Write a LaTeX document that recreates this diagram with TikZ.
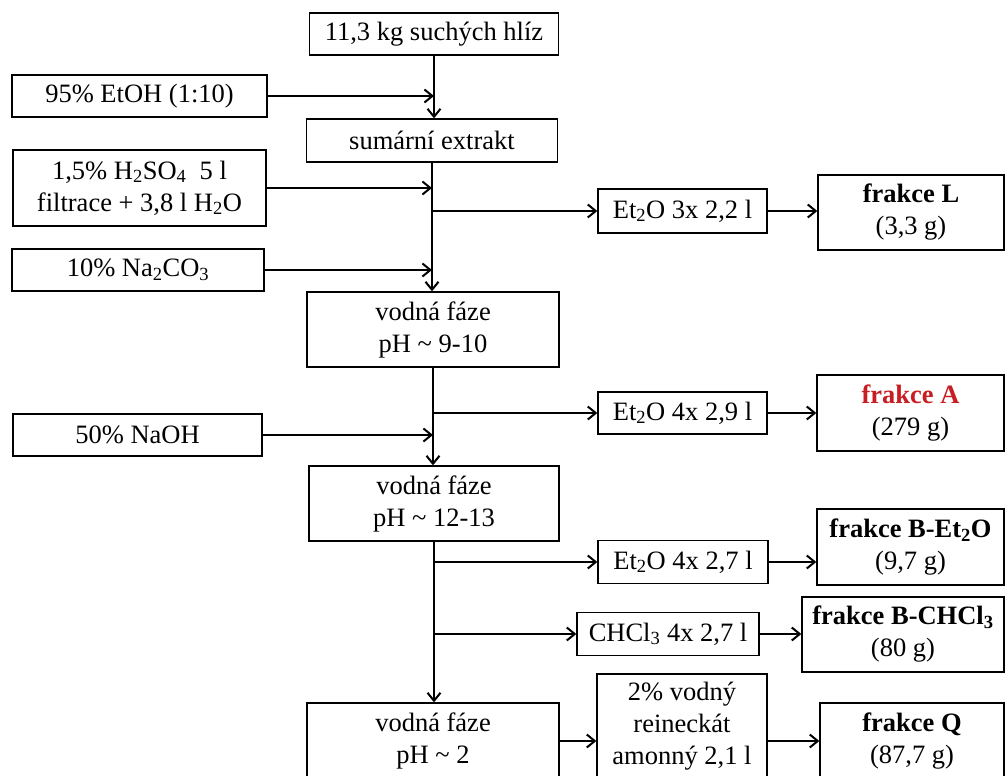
\documentclass[tikz,border=0pt]{standalone}
\usepackage{fontspec}
\setmainfont{Liberation Serif}
\usetikzlibrary{arrows.meta}
\definecolor{fred}{RGB}{200,30,35}
\begin{document}
\begin{tikzpicture}[x=1pt,y=-1pt,
  box/.style={draw, line width=1.3pt, inner sep=0pt, align=center, font=\fontsize{26.5}{32}\selectfont},
  conn/.style={line width=2pt, -{Straight Barb[length=8pt,width=13pt,line width=2pt]}},
  wire/.style={line width=2pt}]
\clip (0,0) rectangle (1005,776);
\fill[white] (0,0) rectangle (1005,776);
% main column
\node[box, minimum width=249pt, minimum height=42pt] (n1) at (434,34) {11,3 kg suchých hlíz};
\node[box, minimum width=251pt, minimum height=43pt] (n2) at (432,140.5) {sumární extrakt};
\node[box, minimum width=252pt, minimum height=75pt] (n3) at (433,329.5) {vodná fáze\\pH \textasciitilde\ 9-10};
\node[box, minimum width=250pt, minimum height=75pt] (n4) at (434,503.5) {vodná fáze\\pH \textasciitilde\ 12-13};
\node[box, minimum width=252pt, minimum height=76pt] (n5) at (433,741) {vodná fáze\\pH \textasciitilde\ 2};
% reagents (left)
\node[box, minimum width=255pt, minimum height=42pt] (e1) at (139.5,96) {95\% EtOH (1:10)};
\node[box, minimum width=253pt, minimum height=76pt] (e2) at (139.5,188) {1,5\% H\textsubscript{2}SO\textsubscript{4}\ \ 5 l\\filtrace + 3,8 l H\textsubscript{2}O};
\node[box, minimum width=252pt, minimum height=42pt] (e3) at (138,270) {10\% Na\textsubscript{2}CO\textsubscript{3}};
\node[box, minimum width=249pt, minimum height=42pt] (e4) at (137.5,435) {50\% NaOH};
% solvents
\node[box, minimum width=169pt, minimum height=44pt] (s1) at (682.5,211) {Et\textsubscript{2}O 3x 2,2 l};
\node[box, minimum width=169pt, minimum height=42pt] (s2) at (682.5,413) {Et\textsubscript{2}O 4x 2,9 l};
\node[box, minimum width=170pt, minimum height=43pt] (s3) at (683,562) {Et\textsubscript{2}O 4x 2,7 l};
\node[box, minimum width=182pt, minimum height=43pt] (s4) at (668,634) {CHCl\textsubscript{3} 4x 2,7 l};
\node[box, minimum width=170pt, minimum height=104pt] (s5) at (682,726) {2\% vodný\\reineckát\\amonný 2,1 l};
% fractions
\node[box, minimum width=186pt, minimum height=75pt] (f1) at (911,212.5) {\textbf{frakce L}\\(3,3 g)};
\node[box, minimum width=187pt, minimum height=76pt] (f2) at (910.5,413) {\textcolor{fred}{\textbf{frakce A}}\\(279 g)};
\node[box, minimum width=187pt, minimum height=76pt] (f3) at (910.5,547) {\textbf{frakce B-Et\textsubscript{2}O}\\(9,7 g)};
\node[box, minimum width=202pt, minimum height=75pt] (f4) at (903,634.5) {\textbf{frakce B-CHCl\textsubscript{3}}\\(80 g)};
\node[box, minimum width=184pt, minimum height=76pt] (f5) at (912,741) {\textbf{frakce Q}\\(87,7 g)};
% main flow
\draw[conn] (n1.south) -- (n1.south |- n2.north);
\draw[conn] (e1.east) -- (e1.east -| n1.south);
\draw[conn] (n2.south) -- (n2.south |- n3.north);
\draw[conn] (e2.east) -- (e2.east -| n2.south);
\draw[conn] (s1.west -| n2.south) -- (s1.west);
\draw[conn] (e3.east) -- (e3.east -| n2.south);
\draw[conn] (s1.east) -- (f1.west |- s1.east);
\draw[conn] (n3.south) -- (n3.south |- n4.north);
\draw[conn] (s2.west -| n3.south) -- (s2.west);
\draw[conn] (e4.east) -- (e4.east -| n3.south);
\draw[conn] (s2.east) -- (f2.west);
\draw[conn] (n4.south) -- (n4.south |- n5.north);
\draw[conn] (s3.west -| n4.south) -- (s3.west);
\draw[conn] (s4.west -| n4.south) -- (s4.west);
\draw[conn] (s3.east) -- (f3.west |- s3.east);
\draw[conn] (s4.east) -- (f4.west |- s4.east);
\draw[conn] (n5.east) -- (n5.east -| s5.west);
\draw[conn] (s5.east |- f5.west) -- (f5.west);
\end{tikzpicture}
\end{document}
